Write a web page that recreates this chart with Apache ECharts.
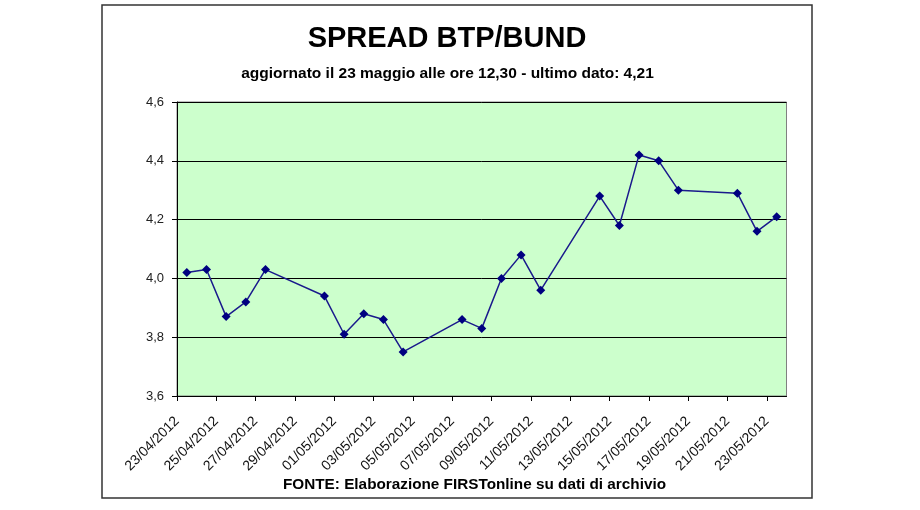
<!DOCTYPE html>
<html>
<head>
<meta charset="utf-8">
<script src="https://cdn.jsdelivr.net/npm/echarts@6/dist/echarts.min.js"></script>
<style>
  html, body { margin: 0; padding: 0; background: #ffffff; }
  #chart { width: 920px; height: 510px; }
</style>
</head>
<body>
<div id="chart"></div>
<script>
// ---- data ----
const dates = ['23/04/2012','24/04/2012','25/04/2012','26/04/2012','27/04/2012',
  '30/04/2012','01/05/2012','02/05/2012','03/05/2012','04/05/2012',
  '07/05/2012','08/05/2012','09/05/2012','10/05/2012','11/05/2012',
  '14/05/2012','15/05/2012','16/05/2012','17/05/2012','18/05/2012',
  '21/05/2012','22/05/2012','23/05/2012'];
const spread = [4.02, 4.03, 3.87, 3.92, 4.03,
  3.94, 3.81, 3.88, 3.86, 3.75,
  3.86, 3.83, 4.00, 4.08, 3.96,
  4.28, 4.18, 4.42, 4.40, 4.30,
  4.29, 4.16, 4.21];
const axisStart = '23/04/2012';
const axisEnd = '24/05/2012';
const tickLabels = ['23/04/2012','25/04/2012','27/04/2012','29/04/2012','01/05/2012',
  '03/05/2012','05/05/2012','07/05/2012','09/05/2012','11/05/2012','13/05/2012',
  '15/05/2012','17/05/2012','19/05/2012','21/05/2012','23/05/2012'];
const yTickLabels = ['3,6','3,8','4,0','4,2','4,4','4,6'];

const titleText = 'SPREAD BTP/BUND';
const subtitleText = 'aggiornato il 23 maggio alle ore 12,30 - ultimo dato: 4,21';
const footerText = 'FONTE: Elaborazione FIRSTonline su dati di archivio';

// ---- helpers ----
const DAY = 86400000;
function parseD(s) { const p = s.split('/'); return Date.UTC(+p[2], +p[1] - 1, +p[0]); }
const t0 = parseD(axisStart);
function dayIndex(s) { return Math.round((parseD(s) - t0) / DAY); }
const maxDay = dayIndex(axisEnd);
const tickDays = tickLabels.map(dayIndex);
const labelByDay = {};
tickLabels.forEach(function (s) { labelByDay[dayIndex(s)] = s; });
const seriesData = dates.map(function (d, i) { return [dayIndex(d) + 0.5, spread[i]]; });
const yVals = yTickLabels.map(function (s) { return parseFloat(s.replace(',', '.')); });

const FONT = '"Liberation Sans", Arial, sans-serif';
const chart = echarts.init(document.getElementById('chart'), null, { renderer: 'canvas' });
chart.setOption({
  backgroundColor: '#ffffff',
  animation: false,
  grid: {
    left: 177, top: 102, right: 133.5, bottom: 114,
    show: true, backgroundColor: '#CCFFCC', borderColor: '#808080', borderWidth: 1,
    outerBoundsMode: 'none'
  },
  xAxis: {
    type: 'value', min: 0, max: maxDay, interval: 2,
    axisLine: { show: true, onZero: false, lineStyle: { color: '#000', width: 1 } },
    axisTick: { show: true, inside: false, length: 5, customValues: tickDays, lineStyle: { color: '#000' } },
    splitLine: { show: false },
    axisLabel: {
      show: true, rotate: 45, margin: 23, customValues: tickDays,
      color: '#111', fontFamily: FONT, fontSize: 14,
      showMinLabel: true, showMaxLabel: true, hideOverlap: false,
      formatter: function (v) { return labelByDay[Math.round(v)] || ''; }
    }
  },
  yAxis: {
    type: 'value', min: yVals[0], max: yVals[yVals.length - 1], interval: 0.2,
    axisLine: { show: true, lineStyle: { color: '#000', width: 1 } },
    axisTick: { show: true, inside: false, length: 5, lineStyle: { color: '#000' } },
    splitLine: { show: true, lineStyle: { color: '#000', width: 1 } },
    axisLabel: {
      margin: 13, color: '#222', fontFamily: FONT, fontSize: 13,
      formatter: function (v) { return v.toFixed(1).replace('.', ','); }
    }
  },
  series: [{
    type: 'line',
    data: seriesData,
    symbol: 'diamond', symbolSize: 9,
    itemStyle: { color: '#000080' },
    lineStyle: { color: '#1a1a8c', width: 1.5 },
    z: 5
  }],
  graphic: [
    { type: 'rect', shape: { x: 102, y: 5, width: 710, height: 493 },
      style: { fill: null, stroke: '#333', lineWidth: 1.5 }, silent: true, z: -1 },
    { type: 'text', x: 447, y: 38.5,
      style: { text: titleText, font: 'bold 29px ' + FONT, fill: '#000', textAlign: 'center', textVerticalAlign: 'middle' } },
    { type: 'text', x: 447.5, y: 74,
      style: { text: subtitleText, font: 'bold 15.5px ' + FONT, fill: '#000', textAlign: 'center', textVerticalAlign: 'middle' } },
    { type: 'text', x: 474.5, y: 485,
      style: { text: footerText, font: 'bold 15.3px ' + FONT, fill: '#000', textAlign: 'center', textVerticalAlign: 'middle' } }
  ]
});
</script>
</body>
</html>
